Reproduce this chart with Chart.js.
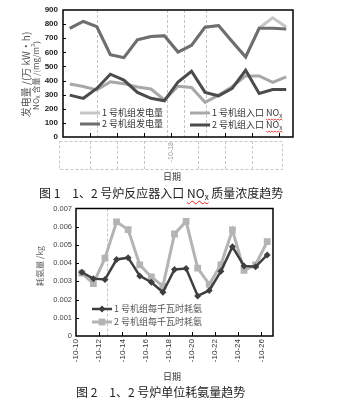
<!DOCTYPE html>
<html lang="zh">
<head>
<meta charset="utf-8">
<script src="https://cdn.jsdelivr.net/npm/chart.js@4.4.0/dist/chart.umd.min.js"></script>
<style>
  body { margin: 0; width: 337px; height: 403px; background: #fff; position: relative; overflow: hidden;
         font-family: "Noto Sans CJK SC", "Noto Sans", sans-serif; color: #222; }
  #nox { position: absolute; left: 0; top: 0; }
  #nh3 { position: absolute; left: 0; top: 200px; }
  .axis-name { position: absolute; font-size: 9px; line-height: 10px; color: #333; transform: translateX(-50%); }
  .caption { position: absolute; font-size: 12px; line-height: 14px; white-space: nowrap; color: #222; }
  .spell { text-decoration: underline wavy #e02020; text-decoration-thickness: 1px; text-underline-offset: 2px; }
  sub { font-size: 8px; vertical-align: -2px; line-height: 0; }
</style>
</head>
<body>
<canvas id="nox" width="337" height="172"></canvas>
<div class="axis-name" style="left:172px; top:172px;">日期</div>
<div class="caption" style="left:39px; top:186px;">图 1　1、2 号炉反应器入口 <span class="spell">NO<sub>x</sub></span> 质量浓度趋势</div>

<canvas id="nh3" width="337" height="170"></canvas>
<div class="axis-name" style="left:172px; top:372px;">日期</div>
<div class="caption" style="left:76px; top:385px;">图 2　1、2 号炉单位耗氨量趋势</div>

<script>
const dates = ['10-10', '10-11', '10-12', '10-13', '10-14', '10-15', '10-16', '10-17', '10-18',
  '10-19', '10-20', '10-21', '10-22', '10-23', '10-24', '10-25', '10-26']

// 发电量 / 万kW·h
const power1 = [770, 818, 780, 584, 562, 689, 712, 717, 602, 649, 778, 790, 677, 567, 772, 845, 780]
const power2 = [770, 820, 782, 584, 562, 689, 712, 717, 602, 649, 778, 790, 677, 567, 770, 770, 766]
// 入口 NOx / (mg/m3)
const nox1 = [375, 358, 333, 391, 378, 354, 340, 262, 360, 351, 246, 297, 356, 433, 433, 387, 426]
const nox2 = [297, 274, 344, 445, 403, 316, 274, 257, 390, 466, 316, 292, 344, 473, 309, 337, 337]

// 每千瓦时耗氨 / kg
const nh3Unit1 = [0.0035, 0.00315, 0.0031, 0.0042, 0.0043, 0.0033, 0.00295, 0.0024, 0.00365,
  0.0037, 0.0022, 0.0025, 0.00355, 0.0049, 0.00385, 0.0038, 0.00445]
const nh3Unit2 = [0.00345, 0.00287, 0.00427, 0.00627, 0.00584, 0.00391, 0.00324, 0.00274, 0.0056,
  0.00629, 0.00373, 0.00284, 0.00391, 0.00582, 0.0036, 0.00391, 0.00518]

const CJK = '"Noto Sans CJK SC", sans-serif'

// 文字里的 NOx 画成下标 x，返回宽度和 NOx 所在区间
function richText(ctx, text, x, y, size, draw = true) {
  const parts = text.split('NOx')
  const marks = []
  let cx = x
  parts.forEach((p, i) => {
    ctx.font = `${size}px ${CJK}`
    if (draw) ctx.fillText(p, cx, y)
    cx += ctx.measureText(p).width
    if (i < parts.length - 1) {
      const start = cx
      if (draw) ctx.fillText('NO', cx, y)
      cx += ctx.measureText('NO').width
      ctx.font = `${size * 0.7}px ${CJK}`
      if (draw) ctx.fillText('x', cx, y + size * 0.25)
      cx += ctx.measureText('x').width
      marks.push([start, cx])
    }
  })
  return { width: cx - x, marks }
}

function wavy(ctx, x0, x1, y) {
  ctx.save()
  ctx.strokeStyle = '#e02020'
  ctx.lineWidth = 0.8
  ctx.setLineDash([])
  ctx.beginPath()
  ctx.moveTo(x0, y)
  for (let x = x0, k = 0; x < x1; x += 1.5, k++) ctx.lineTo(x + 1.5, y + (k % 2 ? 0 : 1.2))
  ctx.stroke()
  ctx.restore()
}

// 类目边界（第 k 个类目的左边）
function boundary(scale, k) {
  const step = scale.getPixelForValue(1) - scale.getPixelForValue(0)
  return scale.getPixelForValue(k) - step / 2
}

const framePlugin = {
  id: 'frame',
  beforeDatasetsDraw(chart, args, opts) {
    const { ctx, chartArea: a, scales: { x } } = chart
    const step = x.getPixelForValue(1) - x.getPixelForValue(0)
    ctx.save()
    ctx.strokeStyle = '#c4c4c4'
    ctx.lineWidth = 1
    ctx.setLineDash([3, 2])
    ;(opts.guides || []).forEach(g => {
      const px = Math.round(x.getPixelForValue(0) + g * step) + 0.5
      ctx.beginPath(); ctx.moveTo(px, a.top); ctx.lineTo(px, a.bottom); ctx.stroke()
    })
    ctx.restore()
  },
  afterDraw(chart, args, opts) {
    const { ctx, chartArea: a, scales: { x, y } } = chart
    ctx.save()
    // 刻度线朝内
    ctx.strokeStyle = '#000'
    ctx.lineWidth = 1
    y.ticks.forEach(t => {
      if (t.value <= y.min || t.value >= y.max) return
      const py = Math.round(y.getPixelForValue(t.value)) + 0.5
      ctx.beginPath(); ctx.moveTo(a.left, py); ctx.lineTo(a.left + 3, py); ctx.stroke()
    })
    for (let k = 2; k < dates.length; k += 2) {
      const px = Math.round(boundary(x, k)) + 0.5
      ctx.beginPath(); ctx.moveTo(px, a.bottom); ctx.lineTo(px, a.bottom - 4); ctx.stroke()
    }
    ctx.lineWidth = 1.5
    ctx.strokeRect(a.left, a.top, a.right - a.left, a.bottom - a.top)

    // 日期栏的虚线格
    if (opts.dateBox) {
      const b = opts.dateBox
      const x0 = boundary(x, 0) - 4, x1 = boundary(x, dates.length - 1) + 3
      ctx.strokeStyle = '#c8c8c8'
      ctx.lineWidth = 1
      ctx.setLineDash([3, 2])
      ctx.strokeRect(Math.round(x0) + 0.5, a.bottom + b.top + 0.5, Math.round(x1 - x0), b.height)
      b.cells.forEach(k => {
        const px = Math.round(boundary(x, k)) + 0.5
        ctx.beginPath(); ctx.moveTo(px, a.bottom + b.top); ctx.lineTo(px, a.bottom + b.top + b.height); ctx.stroke()
      })
      ctx.setLineDash([])
    }

    // 纵轴标题
    ctx.fillStyle = opts.titleColor || '#555'
    ctx.textBaseline = 'middle'
    ;(opts.titles || []).forEach(t => {
      const cy = (a.top + a.bottom) / 2 + (t.dy || 0)
      const w = richText(ctx, t.text, 0, 0, t.size, false).width
      ctx.save()
      ctx.translate(t.x, cy)
      ctx.rotate(-Math.PI / 2)
      richText(ctx, t.text, -w / 2, 0, t.size)
      ctx.restore()
    })
    ctx.restore()
  }
}

const innerLegend = {
  id: 'innerLegend',
  afterDraw(chart, args, opts) {
    const { ctx, chartArea: a } = chart
    ctx.save()
    ctx.textBaseline = 'middle'
    opts.items.forEach(item => {
      const ds = chart.data.datasets[item.index]
      const lx = a.left + item.x, ly = a.bottom - item.y
      ctx.strokeStyle = ds.borderColor
      ctx.lineWidth = ds.borderWidth
      ctx.beginPath(); ctx.moveTo(lx, ly); ctx.lineTo(lx + 20, ly); ctx.stroke()
      if (ds.pointStyle) {
        ctx.fillStyle = ds.pointBackgroundColor
        Chart.helpers.drawPoint(ctx, { pointStyle: ds.pointStyle, radius: ds.pointRadius, rotation: 0, borderWidth: 0 }, lx + 10, ly)
      }
      ctx.fillStyle = opts.color
      const r = richText(ctx, ds.label, lx + 22, ly, opts.size)
      r.marks.forEach(m => wavy(ctx, m[0], m[1], ly + 6))
    })
    ctx.restore()
  }
}

const hiddenGrid = { display: false, drawTicks: false }

new Chart(document.getElementById('nox'), {
  type: 'line',
  data: {
    labels: dates,
    datasets: [
      { label: '1 号机组发电量', data: power1, borderColor: '#c6c6c6', borderWidth: 3, order: 4 },
      { label: '2 号机组发电量', data: power2, borderColor: '#6e6e6e', borderWidth: 3, order: 2 },
      { label: '1 号机组入口 NOx', data: nox1, borderColor: '#a8a8a8', borderWidth: 3, order: 3 },
      { label: '2 号机组入口 NOx', data: nox2, borderColor: '#4b4b4b', borderWidth: 3, order: 1 }
    ]
  },
  options: {
    responsive: false,
    animation: false,
    layout: { padding: { top: 10, right: 44, bottom: 0, left: 0 } },
    elements: { line: { tension: 0 }, point: { radius: 0 } },
    plugins: {
      legend: { display: false },
      tooltip: { enabled: false },
      frame: {
        guides: [2, 7.2, 8.45, 10.05],
        dateBox: { top: 4, height: 28, cells: [2, 4, 6, 10, 12, 14] },
        titleColor: '#555',
        titles: [
          { text: '发电量 /(万 kW·h)', x: 26, size: 10, dy: 1 },
          { text: 'NOx 含量 /(mg/m³)', x: 36, size: 8, dy: 2 }
        ]
      },
      innerLegend: {
        size: 9,
        color: '#333',
        items: [
          { index: 0, x: 17, y: 24 },
          { index: 1, x: 17, y: 13 },
          { index: 2, x: 127, y: 24 },
          { index: 3, x: 127, y: 12 }
        ]
      }
    },
    scales: {
      x: {
        offset: true,
        grid: hiddenGrid,
        border: { display: false },
        ticks: {
          autoSkip: false, minRotation: 90, maxRotation: 90, labelOffset: -6.8, padding: 5,
          color: '#999', font: { size: 7 },
          callback: (v, i) => i === 8 ? '-' + dates[i] : ''
        },
        afterFit: s => { s.height = 35 }
      },
      y: {
        min: 0,
        max: 900,
        grid: hiddenGrid,
        border: { display: false },
        ticks: { stepSize: 100, padding: 5, color: '#222', font: { size: 8, weight: 'bold' } },
        afterFit: s => { s.width = 63 }
      }
    }
  },
  plugins: [framePlugin, innerLegend]
})

new Chart(document.getElementById('nh3'), {
  type: 'line',
  data: {
    labels: dates,
    datasets: [
      {
        label: '1 号机组每千瓦时耗氨', data: nh3Unit1, borderColor: '#3f3f3f', borderWidth: 2.5,
        pointStyle: 'rectRot', pointRadius: 3.5, pointBackgroundColor: '#3f3f3f', pointBorderWidth: 0, order: 1
      },
      {
        label: '2 号机组每千瓦时耗氨', data: nh3Unit2, borderColor: '#b4b4b4', borderWidth: 3,
        pointStyle: 'rect', pointRadius: 4.8, pointBackgroundColor: '#b4b4b4', pointBorderWidth: 0, order: 2
      }
    ]
  },
  options: {
    responsive: false,
    animation: false,
    layout: { padding: { top: 8, right: 64, bottom: 0, left: 0 } },
    elements: { line: { tension: 0 } },
    plugins: {
      legend: { display: false },
      tooltip: { enabled: false },
      frame: {
        guides: [2.2],
        titleColor: '#666',
        titles: [{ text: '耗氨量 /kg', x: 40, size: 8.5, dy: -6 }]
      },
      innerLegend: {
        size: 9,
        color: '#555',
        items: [
          { index: 0, x: 16, y: 27 },
          { index: 1, x: 16, y: 14 }
        ]
      }
    },
    scales: {
      x: {
        offset: true,
        grid: hiddenGrid,
        border: { display: false },
        ticks: {
          autoSkip: false, minRotation: 90, maxRotation: 90, labelOffset: -5.8, padding: 3,
          color: '#333', font: { size: 8 },
          callback: (v, i) => i % 2 === 0 ? '-' + dates[i] : ''
        },
        afterFit: s => { s.height = 34 }
      },
      y: {
        min: 0,
        max: 0.007,
        grid: hiddenGrid,
        border: { display: false },
        ticks: {
          stepSize: 0.001, padding: 4, color: '#444', font: { size: 7.5 },
          callback: v => v === 0 ? '0' : v.toFixed(3)
        },
        afterFit: s => { s.width = 76 }
      }
    }
  },
  plugins: [framePlugin, innerLegend]
})
</script>
</body>
</html>
